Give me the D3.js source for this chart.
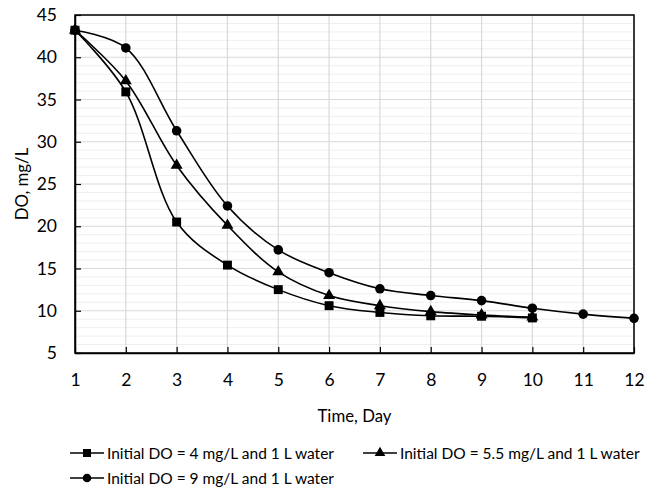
<!DOCTYPE html>
<html>
<head>
<meta charset="utf-8">
<script src="https://cdn.jsdelivr.net/npm/d3@7"></script>
<style>
  body { margin: 0; background: #fff; }
  text { font-family: Lato, "Open Sans", sans-serif; fill: #000; }
</style>
</head>
<body>
<div id="container"></div>
<script>
/* DATA */
const days4 = [1, 2, 3, 4, 5, 6, 7, 8, 9, 10];
const do4 = [43.2, 35.9, 20.5, 15.4, 12.5, 10.6, 9.8, 9.4, 9.35, 9.15];
const days55 = [1, 2, 3, 4, 5, 6, 7, 8, 9, 10];
const do55 = [43.2, 37.2, 27.2, 20.1, 14.6, 11.8, 10.6, 9.9, 9.5, 9.25];
const days9 = [1, 2, 3, 4, 5, 6, 7, 8, 9, 10, 11, 12];
const do9 = [43.2, 41.1, 31.3, 22.4, 17.2, 14.5, 12.6, 11.8, 11.2, 10.3, 9.6, 9.1];
const seriesNames = [
  "Initial DO = 4 mg/L and 1 L water",
  "Initial DO = 5.5 mg/L and 1 L water",
  "Initial DO = 9 mg/L and 1 L water"
];
const xTicks = [1, 2, 3, 4, 5, 6, 7, 8, 9, 10, 11, 12];
const yTicks = [5, 10, 15, 20, 25, 30, 35, 40, 45];

/* CONSTANTS */
const width = 656, height = 488;
const margin = { top: 15, right: 22, bottom: 135, left: 75 };

const svg = d3.select("#container").append("svg")
  .attr("width", width)
  .attr("height", height);

const x = d3.scaleLinear().domain([1, 12]).range([margin.left, width - margin.right]);
const y = d3.scaleLinear().domain([5, 45]).range([height - margin.bottom, margin.top]);

// minor gridlines every 1
svg.append("g")
  .selectAll("line")
  .data(d3.range(5, 46, 1).filter(v => v % 5 !== 0))
  .join("line")
  .attr("x1", x(1)).attr("x2", x(12))
  .attr("y1", d => y(d)).attr("y2", d => y(d))
  .attr("stroke", "#efefef").attr("stroke-width", 1);

// major gridlines
svg.append("g")
  .selectAll("line")
  .data(yTicks)
  .join("line")
  .attr("x1", x(1)).attr("x2", x(12))
  .attr("y1", d => y(d)).attr("y2", d => y(d))
  .attr("stroke", "#d9d9d9").attr("stroke-width", 1.2);

svg.append("g")
  .selectAll("line")
  .data(xTicks)
  .join("line")
  .attr("x1", d => x(d)).attr("x2", d => x(d))
  .attr("y1", y(5)).attr("y2", y(45))
  .attr("stroke", "#d9d9d9").attr("stroke-width", 1.2);

// frame
svg.append("rect")
  .attr("x", x(1)).attr("y", y(45))
  .attr("width", x(12) - x(1)).attr("height", y(5) - y(45))
  .attr("fill", "none").attr("stroke", "#000").attr("stroke-width", 1.5);

// axes (ticks point inward like the excel chart)
const xAxis = svg.append("g")
  .attr("transform", `translate(0,${y(5)})`)
  .call(d3.axisBottom(x).tickValues(xTicks).tickSizeInner(-6).tickSizeOuter(0).tickPadding(21).tickFormat(d3.format("d")));
xAxis.select(".domain").attr("stroke", "#000").attr("stroke-width", 1.5);
xAxis.selectAll(".tick line").attr("stroke", "#000").attr("stroke-width", 1.2);
xAxis.selectAll("text").attr("font-size", 17.5);

const yAxis = svg.append("g")
  .attr("transform", `translate(${x(1)},0)`)
  .call(d3.axisLeft(y).tickValues(yTicks).tickSizeInner(-6).tickSizeOuter(0).tickPadding(18));
yAxis.select(".domain").attr("stroke", "#000").attr("stroke-width", 1.5);
yAxis.selectAll(".tick line").attr("stroke", "#000").attr("stroke-width", 1.2);
yAxis.selectAll("text").attr("font-size", 17.5);

// axis titles
svg.append("text")
  .attr("x", (x(1) + x(12)) / 2).attr("y", 422)
  .attr("text-anchor", "middle").attr("font-size", 16.8)
  .text("Time, Day");

svg.append("text")
  .attr("transform", `translate(28,${(y(5) + y(45)) / 2}) rotate(-90)`)
  .attr("text-anchor", "middle").attr("font-size", 16.8)
  .text("DO, mg/L");

// lines
const series = [
  { name: seriesNames[0], xs: days4, ys: do4, shape: d3.symbolSquare, size: 80 },
  { name: seriesNames[1], xs: days55, ys: do55, shape: d3.symbolTriangle, size: 62 },
  { name: seriesNames[2], xs: days9, ys: do9, shape: d3.symbolCircle, size: 72 }
];

const lineGen = d3.line()
  .x(d => x(d[0]))
  .y(d => y(d[1]))
  .curve(d3.curveCatmullRom.alpha(0.5));

series.forEach(s => {
  const pts = s.xs.map((d, i) => [d, s.ys[i]]);
  svg.append("path")
    .datum(pts)
    .attr("d", lineGen)
    .attr("fill", "none")
    .attr("stroke", "#000")
    .attr("stroke-width", 1.6);
  svg.append("g")
    .selectAll("path")
    .data(pts)
    .join("path")
    .attr("d", d3.symbol(s.shape, s.size))
    .attr("transform", d => `translate(${x(d[0])},${y(d[1])})`)
    .attr("fill", "#000");
});

// legend
const legendPos = [[70, 453], [363, 453], [70, 478]];
series.forEach((s, i) => {
  const [lx, ly] = legendPos[i];
  const g = svg.append("g").attr("transform", `translate(${lx},${ly})`);
  g.append("line").attr("x1", 0).attr("x2", 34).attr("y1", 0).attr("y2", 0)
    .attr("stroke", "#000").attr("stroke-width", 1.6);
  g.append("path").attr("d", d3.symbol(s.shape, s.size * 0.8))
    .attr("transform", "translate(17,0)").attr("fill", "#000");
  g.append("text").attr("x", 37).attr("y", 5.5).attr("font-size", 15.5)
    .text(s.name);
});
</script>
</body>
</html>
